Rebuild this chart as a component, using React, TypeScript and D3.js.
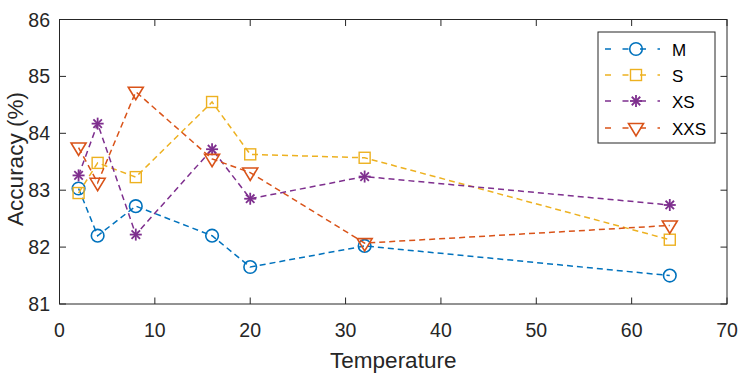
import * as d3 from "d3";
import { useEffect, useRef } from "react";

const temps = [2, 4, 8, 16, 20, 32, 64];
const accM = [83.03, 82.2, 82.72, 82.2, 81.65, 82.02, 81.5];
const accS = [82.95, 83.48, 83.23, 84.55, 83.63, 83.57, 82.13];
const accXS = [83.26, 84.17, 82.22, 83.72, 82.85, 83.24, 82.74];
const accXXS = [83.75, 83.13, 84.73, 83.55, 83.31, 82.07, 82.38];
const seriesNames = ["M", "S", "XS", "XXS"];
const seriesColors = ["#0072BD", "#EDB120", "#7E2F8E", "#D95319"];
const xTicks = [0, 10, 20, 30, 40, 50, 60, 70];
const yTicks = [81, 82, 83, 84, 85, 86];

const W = 741;
const H = 380;
const margin = { left: 59.5, right: 14, top: 19.5, bottom: 76 };
const FONT = "'Liberation Sans', Arial, sans-serif";
const AX = "#262626";

function drawMarker(g: any, kind: string, x: number, y: number, color: string) {
  if (kind === "M") {
    g.append("circle").attr("cx", x).attr("cy", y).attr("r", 6.3)
      .attr("fill", "none").attr("stroke", color).attr("stroke-width", 1.6);
  } else if (kind === "S") {
    g.append("rect").attr("x", x - 5.5).attr("y", y - 5.5).attr("width", 11).attr("height", 11)
      .attr("fill", "none").attr("stroke", color).attr("stroke-width", 1.4);
  } else if (kind === "XS") {
    const r = 6;
    for (let i = 0; i < 4; i++) {
      const a = (i * Math.PI) / 4;
      g.append("line")
        .attr("x1", x - r * Math.cos(a)).attr("y1", y - r * Math.sin(a))
        .attr("x2", x + r * Math.cos(a)).attr("y2", y + r * Math.sin(a))
        .attr("stroke", color).attr("stroke-width", 1.8);
    }
  } else {
    const s = 7.5;
    g.append("path")
      .attr("d", `M${x - s},${y - s * 0.6}L${x + s},${y - s * 0.6}L${x},${y + s * 1.05}Z`)
      .attr("fill", "none").attr("stroke", color).attr("stroke-width", 1.6);
  }
}

export default function App() {
  const svgRef = useRef(null);

  useEffect(() => {
    const svg = d3.select(svgRef.current);
    svg.selectAll("*").remove();

    const x = d3.scaleLinear().domain([0, 70]).range([margin.left, W - margin.right]);
    const y = d3.scaleLinear().domain([81, 86]).range([H - margin.bottom, margin.top]);
    const [x0, x1] = x.range();
    const [y0, y1] = y.range();

    svg.append("rect").attr("width", W).attr("height", H).attr("fill", "#fff");

    // ticks (inside, on all four sides)
    const tl = 6.5;
    const axes = svg.append("g").attr("stroke", AX).attr("stroke-width", 1);
    xTicks.forEach((t) => {
      axes.append("line").attr("x1", x(t)).attr("x2", x(t)).attr("y1", y0).attr("y2", y0 - tl);
      axes.append("line").attr("x1", x(t)).attr("x2", x(t)).attr("y1", y1).attr("y2", y1 + tl);
    });
    yTicks.forEach((t) => {
      axes.append("line").attr("x1", x0).attr("x2", x0 + tl).attr("y1", y(t)).attr("y2", y(t));
      axes.append("line").attr("x1", x1).attr("x2", x1 - tl).attr("y1", y(t)).attr("y2", y(t));
    });

    const all = [accM, accS, accXS, accXXS];
    const line = d3.line<number>().x((_, i) => x(temps[i])).y((d) => y(d));

    all.forEach((vals, si) => {
      const g = svg.append("g");
      g.append("path").attr("d", line(vals)).attr("fill", "none")
        .attr("stroke", seriesColors[si]).attr("stroke-width", 1.5)
        .attr("stroke-dasharray", "6,4");
      vals.forEach((v, i) => drawMarker(g, seriesNames[si], x(temps[i]), y(v), seriesColors[si]));
    });

    // box
    svg.append("rect").attr("x", x0).attr("y", y1).attr("width", x1 - x0).attr("height", y0 - y1)
      .attr("fill", "none").attr("stroke", AX).attr("stroke-width", 1);

    // tick labels
    xTicks.forEach((t) => {
      svg.append("text").attr("x", x(t)).attr("y", y0 + 32.5).attr("text-anchor", "middle")
        .attr("font-family", FONT).attr("font-size", 19.5).attr("fill", AX).text(t);
    });
    yTicks.forEach((t) => {
      svg.append("text").attr("x", x0 - 9.5).attr("y", y(t) + 7).attr("text-anchor", "end")
        .attr("font-family", FONT).attr("font-size", 19.5).attr("fill", AX).text(t);
    });

    svg.append("text").attr("x", (x0 + x1) / 2).attr("y", 367.5).attr("text-anchor", "middle")
      .attr("font-family", FONT).attr("font-size", 22.5).attr("fill", AX).text("Temperature");
    svg.append("text").attr("transform", `translate(22.5,159) rotate(-90)`)
      .attr("text-anchor", "middle").attr("font-family", FONT).attr("font-size", 22.5)
      .attr("fill", AX).text("Accuracy (%)");

    // legend
    const lg = svg.append("g");
    lg.append("rect").attr("x", 598).attr("y", 32).attr("width", 117).attr("height", 111)
      .attr("fill", "#fff").attr("stroke", AX).attr("stroke-width", 1);
    const rowY = [49, 75, 101, 128];
    seriesNames.forEach((n, i) => {
      const c = seriesColors[i];
      lg.append("line").attr("x1", 605).attr("x2", 660).attr("y1", rowY[i]).attr("y2", rowY[i])
        .attr("stroke", c).attr("stroke-width", 1.5).attr("stroke-dasharray", "6,11.5");
      drawMarker(lg, n, 636, rowY[i], c);
      lg.append("text").attr("x", 672).attr("y", rowY[i] + 6.5).attr("font-family", FONT)
        .attr("font-size", 17).attr("fill", "#000").text(n);
    });
  }, []);

  return (
    <div>
      <svg ref={svgRef} width={W} height={H} style={{ position: "absolute", left: 0, top: 0 }}></svg>
    </div>
  );
}
